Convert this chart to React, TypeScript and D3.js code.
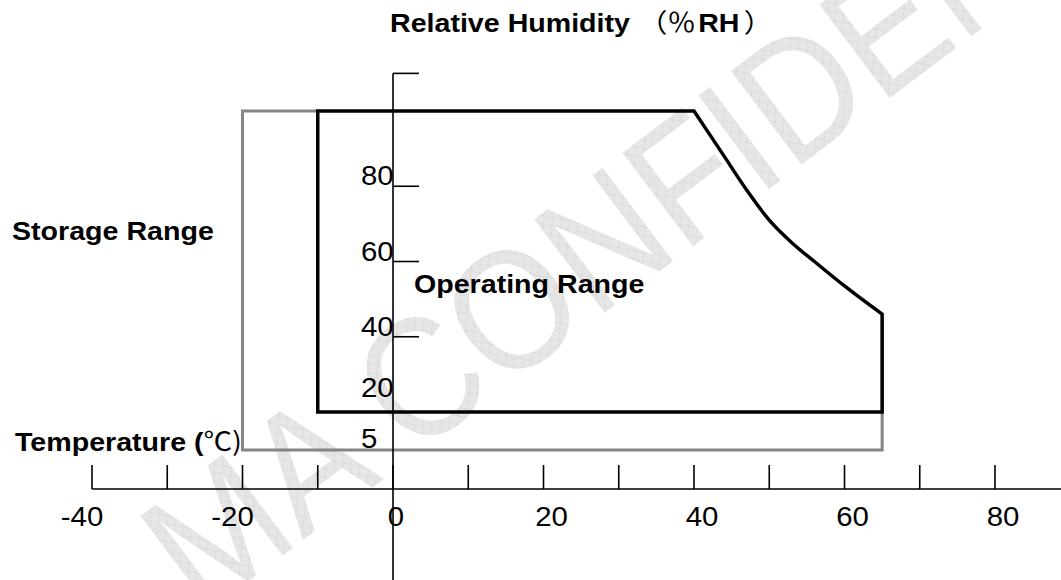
import React from 'react';
import * as d3 from 'd3';

// temperature (°C) ticks on the horizontal axis
const xTickValues = [-40, -30, -20, -10, 0, 10, 20, 30, 40, 50, 60, 70, 80];
const xTickLabels = [-40, -20, 0, 20, 40, 60, 80];

// relative humidity (%RH) marks on the vertical axis
const yTickMarks = [40, 60, 80];
const yTickLabels = [5, 20, 40, 60, 80];

// operating range outline: straight part then the curved derating edge
const operatingTemp = [65, 65, -10, -10, 40];
const operatingRH = [46, 20, 20, 100, 100];
const curveTemp = [40, 44, 47, 50, 53, 56, 60, 65];
const curveRH = [100, 88, 79, 71, 65, 60, 53.5, 46];

// storage range outline (the rest is hidden under the operating range)
const storageTemp = [-10, -20, -20, 65, 65];
const storageRH = [100, 100, 5, 5, 20];

const W = 1061;
const H = 580;

const latin = 'Liberation Sans, Arial, sans-serif';
const cjk = '"Noto Sans CJK SC", "Noto Sans CJK JP", sans-serif';

export default function App() {
  const x = d3.scaleLinear().domain([-40, 80]).range([92, 995]);
  // the drawing is not to scale below 20 %RH, so use a piecewise scale
  const y = d3.scaleLinear().domain([5, 20, 100]).range([450, 412, 111]);

  const x0 = x(0);
  const yTop = y(110);

  const lin = d3.line<[number, number]>()
    .x(d => x(d[0]))
    .y(d => y(d[1]));
  const smooth = d3.line<[number, number]>()
    .x(d => x(d[0]))
    .y(d => y(d[1]))
    .curve(d3.curveMonotoneX);

  const straightPts = operatingTemp.map((t, i) => [t, operatingRH[i]] as [number, number]);
  const curvePts = curveTemp.map((t, i) => [t, curveRH[i]] as [number, number]);
  const opPath = lin(straightPts) + 'L' + (smooth(curvePts) || '').slice(1) + 'Z';

  const storePts = storageTemp.map((t, i) => [t, storageRH[i]] as [number, number]);
  const storePath = lin(storePts) || '';

  const boldLabel = (txt: React.ReactNode, tx: number, ty: number) => (
    <text transform={`translate(${tx},${ty}) scale(1.1,1)`} fontFamily={latin}
      fontWeight="bold" fontSize={26} fill="#000">{txt}</text>
  );

  return (
    <svg width={W} height={H} style={{ position: 'absolute', left: 0, top: 0, display: 'block', background: '#fff' }}>
      <defs>
        <pattern id="wmFill" width={9} height={9} patternUnits="userSpaceOnUse" patternTransform="rotate(45)">
          <rect width={9} height={9} fill="#e6e6e6" />
          <path d="M0,0H9M0,0V9" stroke="#d2d2d2" strokeWidth={1} />
        </pattern>
      </defs>

      {/* watermark */}
      <text transform="translate(201,617) rotate(-37) scale(0.9,1)" fontFamily={latin} fontSize={170}
        fill="url(#wmFill)">MA CONFIDENTIAL</text>

      {/* storage range */}
      <path d={storePath} fill="none" stroke="#858585" strokeWidth={3} strokeLinejoin="miter" />
      {/* operating range */}
      <path d={opPath} fill="none" stroke="#000" strokeWidth={3.5} strokeLinejoin="miter" />

      {/* x axis */}
      <line x1={x(-40)} x2={W} y1={489} y2={489} stroke="#000" strokeWidth={1.6} />
      {xTickValues.map(v => (
        <line key={v} x1={x(v)} x2={x(v)} y1={465} y2={489} stroke="#000" strokeWidth={1.6} />
      ))}
      {xTickLabels.map(v => (
        <text key={v} transform={`translate(${x(v) + (v < 0 ? -10 : v === 0 ? 3 : 8)},526) scale(1.05,1)`}
          textAnchor="middle" fontFamily={latin} fontSize={28} fill="#000">{v}</text>
      ))}

      {/* y axis */}
      <line x1={x0} x2={x0} y1={yTop} y2={H} stroke="#000" strokeWidth={1.6} />
      <line x1={x0} x2={x0 + 26} y1={yTop} y2={yTop} stroke="#000" strokeWidth={1.6} />
      {yTickMarks.map(v => (
        <line key={v} x1={x0} x2={x0 + 26} y1={y(v)} y2={y(v)} stroke="#000" strokeWidth={1.6} />
      ))}
      {yTickLabels.map(v => (
        <text key={v} transform={`translate(${x0 - 32},${y(v) - (v === 20 ? 15 : v === 5 ? 2 : 1)}) scale(1.05,1)`}
          fontFamily={latin} fontSize={28} fill="#000">{v}</text>
      ))}

      {/* titles and labels */}
      <text transform="translate(390,32) scale(1.1,1)" fontFamily={latin} fontWeight="bold" fontSize={26} fill="#000">
        Relative Humidity
        <tspan dx={8} fontFamily={cjk} fontWeight="normal">（％</tspan>
        <tspan dx={2}>RH</tspan>
        <tspan dx={4} fontFamily={cjk} fontWeight="normal">）</tspan>
      </text>
      {boldLabel('Storage Range', 12, 240)}
      {boldLabel('Operating Range', 414, 293)}
      <text transform="translate(15,451) scale(1.1,1)" fontFamily={latin} fontWeight="bold" fontSize={26} fill="#000">
        Temperature (
        <tspan fontFamily={cjk} fontWeight="normal">℃)</tspan>
      </text>
    </svg>
  );
}
